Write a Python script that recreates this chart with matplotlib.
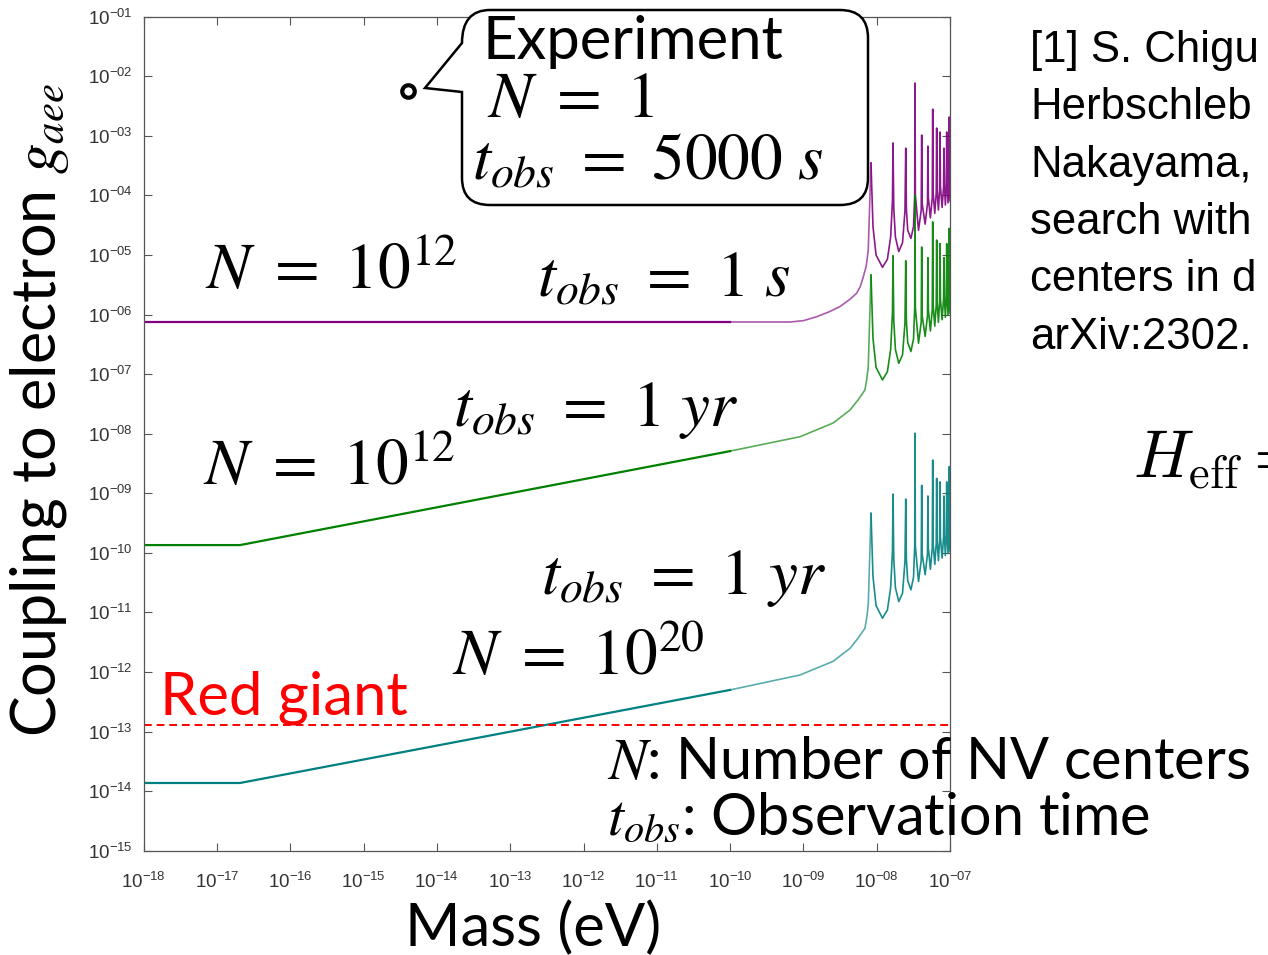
import numpy as np
import matplotlib as mpl
import matplotlib.pyplot as plt
from matplotlib.path import Path
from matplotlib.patches import PathPatch

plt.rcParams['font.family'] = ['Liberation Sans', 'DejaVu Sans']
plt.rcParams['mathtext.fontset'] = 'custom'
plt.rcParams['mathtext.rm'] = 'Liberation Sans'
plt.rcParams['mathtext.it'] = 'Liberation Sans:italic'

# smooth part of each sensitivity curve (mass in eV, coupling g_aee)
purple_m = [1e-18, 1e-10, 6.6e-10, 1.0e-9, 1.52e-9, 2.2e-9, 3.15e-9, 4.3e-9,
            5.33e-9, 6.0e-9, 6.56e-9, 7.2e-9, 7.67e-9]
purple_g = [7.5e-7, 7.5e-7, 7.5e-7, 7.9e-7, 9.2e-7, 1.1e-6, 1.36e-6, 1.8e-6,
            2.28e-6, 3.0e-6, 4.3e-6, 6.5e-6, 1.21e-5]
green_m = [1e-18, 2.06e-17, 1e-10, 8.99e-10, 2.54e-9, 4.33e-9, 5.56e-9, 6.9e-9,
           7.3e-9, 7.67e-9]
green_g = [1.35e-10, 1.35e-10, 5.1e-9, 8.9e-9, 1.51e-8, 2.5e-8, 3.68e-8, 5.4e-8,
           8.0e-8, 1.33e-7]
teal_m = [1e-18, 2.06e-17, 1e-10, 8.99e-10, 2.54e-9, 4.33e-9, 5.56e-9, 6.9e-9,
          7.3e-9, 7.67e-9]
teal_g = [1.37e-14, 1.37e-14, 5.0e-13, 8.9e-13, 1.51e-12, 2.5e-12, 3.68e-12, 5.4e-12,
          8.0e-12, 1.33e-11]

# resonance region (same masses for the three curves)
res_m = [8.36e-9, 8.9e-9, 9.8e-9, 1.2e-8, 1.4e-8, 1.55e-8, 1.64e-8, 1.67e-8,
         1.71e-8, 1.8e-8, 2.0e-8, 2.25e-8, 2.43e-8, 2.49e-8, 2.54e-8, 2.65e-8,
         2.93e-8, 3.18e-8, 3.3e-8, 3.33e-8, 3.37e-8, 3.72e-8,
         4.05e-8, 4.11e-8, 4.17e-8, 4.58e-8,
         4.93e-8, 5.0e-8, 5.07e-8, 5.4e-8,
         5.73e-8, 5.81e-8, 5.89e-8, 6.2e-8,
         6.49e-8, 6.58e-8, 6.67e-8, 6.95e-8,
         7.21e-8, 7.31e-8, 7.41e-8, 7.8e-8,
         8.17e-8, 8.28e-8, 8.39e-8, 8.65e-8,
         8.9e-8, 9.02e-8, 9.14e-8, 9.4e-8,
         9.64e-8, 9.77e-8, 9.9e-8, 1.0e-7]
purple_res = [3.5e-4, 3.0e-5, 1.0e-5, 6.2e-6, 8.5e-6, 2.0e-5, 8.0e-5, 7.6e-4,
              6.0e-5, 2.0e-5, 1.14e-5, 1.6e-5, 5.5e-5, 6.2e-4, 6.0e-5, 2.6e-5,
              1.9e-5, 3.0e-5, 1.0e-4, 7.7e-3, 1.0e-4, 2.6e-5,
              5.7e-5, 1.03e-3, 7.3e-5, 3.3e-5,
              7.3e-5, 6.7e-4, 9.2e-5, 4.2e-5,
              9.2e-5, 2.8e-3, 1.1e-4, 5.0e-5,
              1.1e-4, 1.35e-3, 1.25e-4, 5.7e-5,
              1.25e-4, 1.16e-3, 1.4e-4, 6.3e-5,
              1.4e-4, 6.2e-4, 1.5e-4, 6.9e-5,
              1.5e-4, 1.16e-3, 1.65e-4, 7.5e-5,
              1.65e-4, 2.07e-3, 1.8e-4, 8.1e-5]
green_res = [4.6e-6, 4.0e-7, 1.3e-7, 8.0e-8, 1.1e-7, 2.6e-7, 1.05e-6, 9.7e-6,
             7.9e-7, 2.6e-7, 1.52e-7, 2.1e-7, 7.2e-7, 8.0e-6, 7.9e-7, 3.4e-7,
             2.4e-7, 3.9e-7, 1.3e-6, 1.02e-4, 1.3e-6, 3.3e-7,
             7.5e-7, 1.36e-5, 9.6e-7, 4.3e-7,
             9.6e-7, 9.0e-6, 1.21e-6, 5.3e-7,
             1.21e-6, 3.6e-5, 1.45e-6, 6.4e-7,
             1.45e-6, 1.78e-5, 1.64e-6, 7.4e-7,
             1.64e-6, 1.55e-5, 1.84e-6, 8.2e-7,
             1.84e-6, 9.0e-6, 1.97e-6, 9.0e-7,
             1.97e-6, 1.55e-5, 2.17e-6, 9.8e-7,
             2.17e-6, 2.8e-5, 2.37e-6, 1.05e-6]
teal_res = [4.6e-10, 4.0e-11, 1.3e-11, 8.0e-12, 1.1e-11, 2.6e-11, 1.05e-10, 9.7e-10,
            7.9e-11, 2.6e-11, 1.52e-11, 2.1e-11, 7.2e-11, 8.0e-10, 7.9e-11, 3.4e-11,
            2.4e-11, 3.9e-11, 1.3e-10, 1.02e-8, 1.3e-10, 3.3e-11,
            7.5e-11, 1.36e-9, 9.6e-11, 4.3e-11,
            9.6e-11, 9.0e-10, 1.21e-10, 5.3e-11,
            1.21e-10, 3.6e-9, 1.45e-10, 6.4e-11,
            1.45e-10, 1.78e-9, 1.64e-10, 7.4e-11,
            1.64e-10, 1.55e-9, 1.84e-10, 8.2e-11,
            1.84e-10, 9.0e-10, 1.97e-10, 9.0e-11,
            1.97e-10, 1.55e-9, 2.17e-10, 9.8e-11,
            2.17e-10, 2.8e-9, 2.37e-10, 1.05e-10]

exp_m = [4.0e-15]
exp_g = [5.7e-3]
red_giant_g = 1.3e-13

x_exp = list(range(-18, -6))
y_exp = list(range(-15, 0))

W, H = 1268, 955
fig = plt.figure(figsize=(W / 100, H / 100), dpi=100)
ax = fig.add_axes([143.7 / W, 1 - 850.7 / H, (950 - 143.7) / W, (850.7 - 16.7) / H])

split = 1e-10
for m, g, rm, rg, col in [(purple_m, purple_g, res_m, purple_res, '#800080'),
                          (green_m, green_g, res_m, green_res, '#008000'),
                          (teal_m, teal_g, res_m, teal_res, '#008080')]:
    mm = np.array(m)
    left = mm <= split
    right = mm >= split
    ax.plot(mm[left], np.array(g)[left], color=col, lw=1.6)
    ax.plot(list(mm[right]) + rm[:1], list(np.array(g)[right]) + rg[:1],
            color=col, lw=1.2, alpha=0.65)
    ax.plot(rm, rg, color=col, lw=1.2, alpha=0.9)

ax.axhline(red_giant_g, color='red', ls=(0, (4, 2.5)), lw=1.4)
ax.plot(exp_m, exp_g, 'o', mfc='white', mec='black', ms=9, mew=3)

ax.set_xscale('log')
ax.set_yscale('log')
ax.set_xlim(1e-18, 1e-7)
ax.set_ylim(1e-15, 1e-1)
ax.set_xticks([10.0 ** e for e in x_exp])
ax.set_yticks([10.0 ** e for e in y_exp])
ax.minorticks_off()
fmt = mpl.ticker.FuncFormatter(lambda v, p: r'$\mathregular{10^{%03d}}$' % int(round(np.log10(v))))
ax.xaxis.set_major_formatter(fmt)
ax.yaxis.set_major_formatter(fmt)
ax.tick_params(which='both', direction='in', top=True, right=True, length=6,
               width=0.8, color='#555555', labelsize=13.5, labelcolor='#333333')
ax.tick_params(axis='x', pad=15)
ax.tick_params(axis='y', pad=8)
for s in ax.spines.values():
    s.set_color('#555555')
    s.set_linewidth(0.9)


def fx(x):
    return x / W


def fy(y):
    return 1 - y / H


fig.text(fx(40), fy(410), r'Coupling to electron $g_{aee}$', rotation=90,
         ha='center', va='center', family='Lato', math_fontfamily='stix', fontsize=44)
fig.text(fx(533), fy(928), 'Mass (eV)', ha='center', va='center', family='Lato', fontsize=43)

big = dict(math_fontfamily='stix', fontsize=47, ha='left', va='center')
fig.text(fx(205), fy(272), r'$N\ =\ 10^{12}$', **big)
fig.text(fx(537), fy(280), r'$t_{obs}\ =\ 1\ s$', **big)
fig.text(fx(453), fy(410), r'$t_{obs}\ =\ 1\ yr$', **big)
fig.text(fx(203), fy(468), r'$N\ =\ 10^{12}$', **big)
fig.text(fx(541), fy(578), r'$t_{obs}\ =\ 1\ yr$', **big)
fig.text(fx(452), fy(658), r'$N\ =\ 10^{20}$', **big)
fig.text(fx(160), fy(698), 'Red giant', color='red', family='Lato', fontsize=43,
         ha='left', va='center')
fig.text(fx(607), fy(763), r'$N$: Number of NV centers', family='Lato',
         math_fontfamily='stix', fontsize=41.5, ha='left', va='center')
fig.text(fx(607), fy(818), r'$t_{obs}$: Observation time', family='Lato',
         math_fontfamily='stix', fontsize=41.5, ha='left', va='center')

# speech bubble
bub = [(462, 43), (425, 88), (462, 92), (462, 178), (462, 205), (490, 205),
       (840, 205), (868, 205), (868, 178), (868, 38), (868, 10), (840, 10),
       (490, 10), (462, 10), (462, 43), (462, 43)]
codes = [Path.MOVETO, Path.LINETO, Path.LINETO, Path.LINETO, Path.CURVE3, Path.CURVE3,
         Path.LINETO, Path.CURVE3, Path.CURVE3, Path.LINETO, Path.CURVE3, Path.CURVE3,
         Path.LINETO, Path.CURVE3, Path.CURVE3, Path.CLOSEPOLY]
path = Path([(fx(a), fy(b)) for a, b in bub], codes)
fig.add_artist(PathPatch(path, transform=fig.transFigure, facecolor='white',
                         edgecolor='black', lw=1.8, zorder=5))
fig.text(fx(483), fy(42), 'Experiment', family='Lato', fontsize=43, ha='left',
         va='center', zorder=6)
fig.text(fx(487), fy(100), r'$N\ =\ 1$', zorder=6, **big)
fig.text(fx(472), fy(163), r'$t_{obs}\ =\ 5000\ s$', zorder=6, **big)

ref_lines = ['[1] S. Chigu', 'Herbschleb', 'Nakayama,', 'search with',
             'centers in d', 'arXiv:2302.']
for i, t in enumerate(ref_lines):
    fig.text(fx(1030), fy(62 + 57.3 * i), t, fontsize=31.5, ha='left',
             va='baseline', color='black')
fig.text(fx(1133), fy(460), r'$H_{\mathrm{eff}} =$', math_fontfamily='cm',
         fontsize=48, ha='left', va='center')

fig.savefig('out.png', dpi=100)
